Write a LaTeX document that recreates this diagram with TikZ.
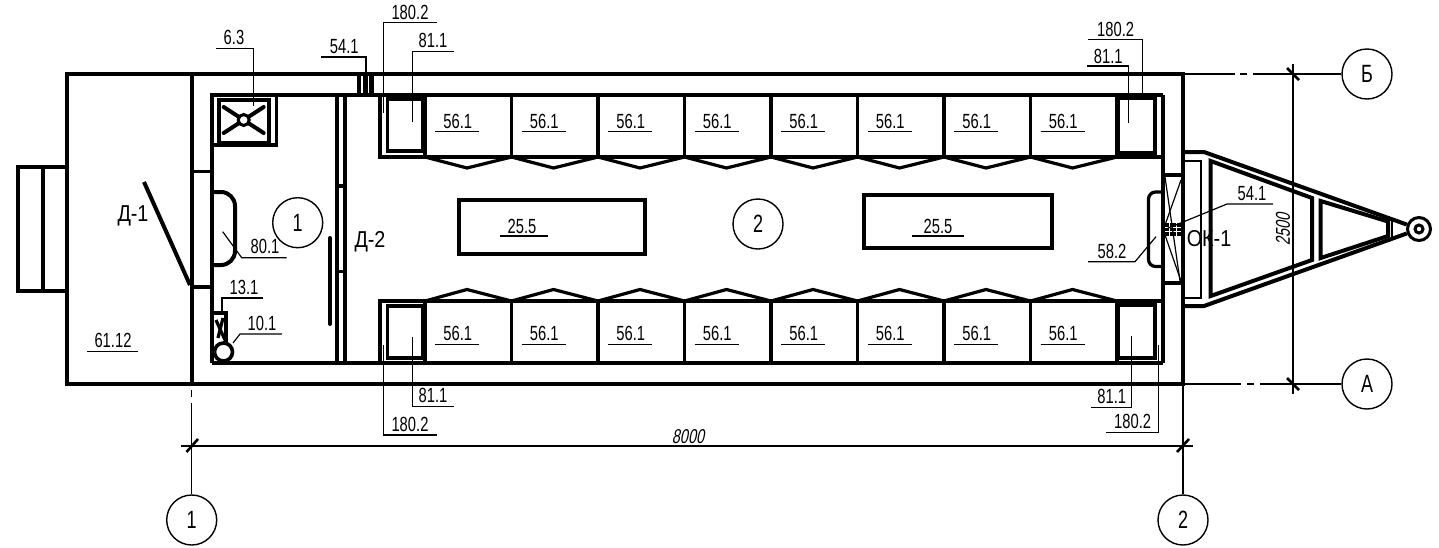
\documentclass[tikz,border=0pt]{standalone}
\usepackage{fontspec}
\setmainfont[FakeStretch=0.72]{Liberation Sans}
\newfontfamily\dimfont[FakeStretch=0.72,FakeSlant=0.2]{Liberation Sans}
\newfontfamily\widefont[FakeStretch=0.86]{Liberation Sans}
\usetikzlibrary{arrows.meta, positioning, calc}

\begin{document}
\begin{tikzpicture}[
    x=1pt, y=-1pt,
    wall/.style={line width=4pt, black, line join=miter},
    inwall/.style={line width=3.2pt, black, line join=miter},
    thinwall/.style={line width=2.2pt, black},
    leader/.style={line width=1.2pt, black},
    dimline/.style={line width=1.4pt, black},
    ticka/.style={line width=2.6pt, black},
    tag/.style={inner sep=0pt, font=\fontsize{20.5}{21}\selectfont},
    bigtag/.style={inner sep=0pt, font=\fontsize{23}{24}\selectfont\widefont},
    dimtag/.style={inner sep=0pt, font=\fontsize{20}{21}\selectfont\dimfont},
    axisnode/.style={draw, circle, line width=1.4pt, minimum size=50pt, inner sep=0pt, font=\fontsize{25}{26}\selectfont}
]
    \useasboundingbox (0,0) rectangle (1439,547);

    % 1. outer hull, cross wall and hitch box
    \draw[wall] (67,74) rectangle (1183,384);
    \draw[wall] (191.7,74) -- (191.7,386);
    \draw[inwall] (67,167) -- (18,167) -- (18,291) -- (67,291);
    \draw[inwall] (43,167) -- (43,291);

    % 2. inner lining and stubs of the door
    \draw[inwall] (212,363) -- (212,95) -- (1163,95);
    \draw[inwall] (212,363) -- (1163,363);
    \draw[inwall] (1163,95) -- (1163,363);
    \draw[inwall] (192,171.3) -- (212,171.3);
    \draw[inwall] (192,287) -- (212,287);
    \draw[wall] (144,182) -- (190,285);

    % 3. partition and its door
    \draw[inwall] (337,95) -- (337,363);
    \draw[inwall] (345,95) -- (345,363);
    \draw[inwall] (337,186) -- (345,186);
    \draw[inwall] (337,271.7) -- (345,271.7);
    \draw[wall, line cap=round] (330,238) -- (330,324);

    % 4. stove
    \draw[inwall] (212,145) -- (276.5,145) -- (276.5,95);
    \draw[wall] (218.5,100) rectangle (269,143);
    \foreach \dx/\dy in {-20/-13, 20/-13, -20/13, 20/13} {
        \draw[wall, line cap=round] (243.7,120) -- ++(\dx,\dy);
    }
    \node[draw, circle, line width=3pt, fill=white, minimum size=11pt, inner sep=0pt] (burner) at (243.7,120) {};

    % 5. sinks
    \draw[wall, rounded corners=14pt] (212,192) -- (235,192) -- (235,265) -- (212,265);
    \draw[inwall, rounded corners=7pt] (1163,192) -- (1148.5,192) -- (1148.5,266.5) -- (1163,266.5);

    % 6. boiler in the corner
    \draw[inwall] (213,313) -- (226,313) -- (226,345);
    \draw[inwall] (216,320) -- (225,340);
    \draw[inwall] (223,318) -- (218,338);
    \node[draw, circle, line width=3.6pt, minimum size=18pt, inner sep=0pt] (boiler) at (223.5,352) {};

    % 7. bunks: both rows, corner boxes, partitions, zigzags
    \draw[inwall] (380,95) -- (380,157) -- (1163,157);
    \draw[inwall] (380,363) -- (380,301) -- (1163,301);
    \draw[inwall] (387.5,99) rectangle (423,151);
    \draw[inwall] (387.5,306) rectangle (423,358);
    \draw[inwall] (1118,98) rectangle (1155,153);
    \draw[inwall] (1118,305) rectangle (1155,358);
    \foreach \i in {0,...,8} {
        \draw[inwall] ({425+86.5*\i},95) -- ({425+86.5*\i},157);
        \draw[inwall] ({425+86.5*\i},301) -- ({425+86.5*\i},363);
    }
    \foreach \i in {0,...,7} {
        \draw[inwall] ({425+86.5*\i},157) -- ({467+86.5*\i},168) -- ({511.5+86.5*\i},157);
        \draw[inwall] ({425+86.5*\i},301) -- ({467+86.5*\i},289.5) -- ({511.5+86.5*\i},301);
        \node[tag] (topbunk\i) at ({457.7+86.5*\i},121.7) {56.1};
        \draw[leader] ({435+86.5*\i},131.7) -- ({479.3+86.5*\i},131.7);
        \node[tag] (lowbunk\i) at ({457.7+86.5*\i},333.5) {56.1};
        \draw[leader] ({435+86.5*\i},344.7) -- ({479.3+86.5*\i},344.7);
    }

    % 8. tables
    \draw[inwall] (459,200) rectangle (645,254);
    \draw[inwall] (864,195) rectangle (1052,248);
    \node[tag] (tableone) at (522,226) {25.5};
    \draw[leader] (500,236) -- (548,236);
    \node[tag] (tabletwo) at (938,226) {25.5};
    \draw[leader] (912,236) -- (964,236);

    % 9. vents in the walls
    \foreach \x in {359,365.5,371.5} {
        \draw[line width=4.2pt] (\x,76) -- (\x,95);
    }
    \foreach \y in {225,229.5,234} {
        \draw[line width=3.4pt, black, dash pattern=on 6pt off 1pt] (1163,\y) -- (1183,\y);
    }

    % 10. window at the drawbar end
    \draw[inwall] (1163,175) -- (1183,175);
    \draw[inwall] (1163,283) -- (1183,283);
    \draw[leader] (1165,177) -- (1180,281);
    \draw[leader] (1181,180) -- (1165,225);
    \draw[leader] (1165,235) -- (1181,281);

    % 11. drawbar
    \node[draw, circle, line width=3pt, minimum size=23pt, inner sep=0pt] (ringout) at (1419,229) {};
    \node[draw, circle, line width=3pt, minimum size=8pt, inner sep=0pt] (ringin) at (1419,229) {};
    \draw[wall] (1183,152) -- (1204,152) -- (ringout.160);
    \draw[wall] (1183,306) -- (1204,306) -- (ringout.200);
    \draw[thinwall] (1183,161) -- (1201,161) -- (1201,298) -- (1183,298);
    \draw[wall] (1210.7,161) -- (1312,198) -- (1312,260) -- (1210.7,296) -- cycle;
    \draw[wall] (1320.7,201) -- (1388,221.5) -- (1388,236) -- (1320.7,258) -- cycle;
    \draw[thinwall] (1391.7,218) -- (1391.7,240);

    % 12. room and axis marks
    \node[axisnode] (roomone) at (297.7,222.7) {1};
    \node[axisnode] (roomtwo) at (758,224) {2};
    \node[axisnode] (axisone) at (191.7,520) {1};
    \node[axisnode] (axistwo) at (1183,520) {2};
    \node[axisnode] (axisb) at (1367,74) {Б};
    \node[axisnode] (axisa) at (1367,384) {А};

    % 13. extension lines, dimension lines
    \coordinate (wallb) at (1183,74);
    \coordinate (walla) at (1183,384);
    \coordinate (wallone) at (191.7,387);
    \draw[dimline, dash pattern=on 52pt off 5pt on 7pt off 6pt on 300pt] (wallb) -- (axisb);
    \draw[dimline, dash pattern=on 58pt off 6pt on 7pt off 6pt on 300pt] (walla) -- (axisa);
    \draw[dimline, dash pattern=on 0pt off 3pt on 7pt off 6pt on 300pt] (wallone) -- (axisone);
    \draw[dimline] (walla) -- (axistwo);
    \draw[dimline] (181,446) -- (1193,446);
    \draw[dimline] (1293,64) -- (1293,394);
    \draw[ticka] (186.5,452) -- (198,439);
    \draw[ticka] (1177,452) -- (1189,439);
    \draw[ticka] (1287,68) -- (1299,80);
    \draw[ticka] (1287,378) -- (1299,390);
    \node[dimtag] (lengthdim) at (688,437) {8000};
    \node[dimtag, rotate=90] (widthdim) at (1283,229) {2500};

    % 14. door and window labels
    \node[bigtag] (doorone) at (133,216) {Д-1};
    \node[bigtag] (doortwo) at (370,241.7) {Д-2};
    \node[bigtag] (windowone) at (1209,239) {ОК-1};

    % 15. leaders with numbers, left part
    \node[tag] (stove) at (234,37.7) {6.3};
    \draw[leader] (215.7,48.3) -- (253.3,48.3) -- (253.3,106);
    \node[tag] (ventone) at (344.3,46.7) {54.1};
    \draw[leader] (321,57) -- (366,57) -- (366,95);
    \node[tag] (lockerone) at (410,12.7) {180.2};
    \draw[leader] (437,22.7) -- (383.3,22.7) -- (383.3,113);
    \node[tag] (seatone) at (433,40.7) {81.1};
    \draw[leader] (454,51.3) -- (412.3,51.3) -- (412.3,121.7);
    \node[tag] (sinkone) at (265,246.7) {80.1};
    \draw[leader] (222.7,231.7) -- (241.7,257.7) -- (286.7,257.7);
    \node[tag] (boxone) at (244,287) {13.1};
    \draw[leader] (222,313) -- (222,298) -- (263,298);
    \node[tag] (boilerno) at (262,323) {10.1};
    \draw[leader] (233,343) -- (240,334) -- (282,334);
    \node[tag] (entry) at (113,340.7) {61.12};
    \draw[leader] (87,351.7) -- (138,351.7);
    \node[tag] (seattwo) at (433,395) {81.1};
    \draw[leader] (412.3,336.7) -- (412.3,406.7) -- (454,406.7);
    \node[tag] (lockertwo) at (410,424) {180.2};
    \draw[leader] (383.3,345) -- (383.3,435) -- (437,435);

    % 16. leaders with numbers, right part
    \node[tag] (lockerthree) at (1115.7,29.3) {180.2};
    \draw[leader] (1088.3,39.3) -- (1142.3,39.3) -- (1142.3,95);
    \node[tag] (seatthree) at (1108.3,56) {81.1};
    \draw[leader] (1087.3,66) -- (1128.3,66) -- (1128.3,123);
    \node[tag] (seatfour) at (1111.7,396.7) {81.1};
    \draw[leader] (1131.7,336) -- (1131.7,407.7) -- (1090.7,407.7);
    \node[tag] (lockerfour) at (1132.7,421) {180.2};
    \draw[leader] (1158.7,345) -- (1158.7,432.3) -- (1105.7,432.3);
    \node[tag] (sinktwo) at (1112,251) {58.2};
    \draw[leader] (1156,236.7) -- (1135,261.7) -- (1088,261.7);
    \node[tag] (venttwo) at (1252,194) {54.1};
    \draw[leader] (1166,229) -- (1227,204) -- (1273,204);

\end{tikzpicture}
\end{document}
